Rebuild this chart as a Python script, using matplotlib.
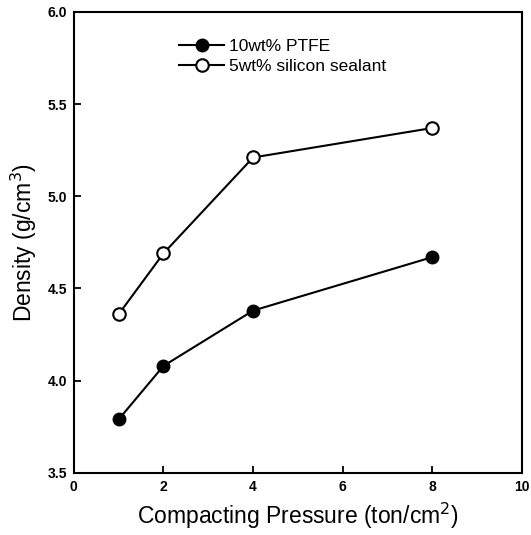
import matplotlib
matplotlib.use("Agg")
import matplotlib.pyplot as plt

pressure = [1, 2, 4, 8]
ptfe = [3.79, 4.08, 4.38, 4.67]
silicon = [4.36, 4.69, 5.21, 5.37]

x_ticks = [0, 2, 4, 6, 8, 10]
y_ticks = [3.5, 4.0, 4.5, 5.0, 5.5, 6.0]

plt.rcParams['font.family'] = ['Liberation Sans', 'DejaVu Sans']

fig = plt.figure(figsize=(5.31, 5.35), dpi=100)
ax = fig.add_axes([0.139, 0.116, 0.844, 0.862])

ax.plot(pressure, ptfe, '-o', color='black', lw=1.5, ms=9,
        mfc='black', mec='black', label='10wt% PTFE')
ax.plot(pressure, silicon, '-o', color='black', lw=1.5, ms=9,
        mfc='white', mec='black', mew=1.5, label='5wt% silicon sealant')

ax.set_xlim(0, 10)
ax.set_ylim(3.5, 6.0)
ax.set_xticks(x_ticks)
ax.set_yticks(y_ticks)
ax.set_xticklabels([str(t) for t in x_ticks], fontweight='bold', fontsize=10)
ax.set_yticklabels(['%.1f' % t for t in y_ticks], fontweight='bold', fontsize=10)
ax.tick_params(direction='in', length=5, width=1.3, top=False, right=False, pad=5)
for s in ax.spines.values():
    s.set_linewidth(1.5)

ax.set_xlabel('Compacting Pressure (ton/cm$^2$)', fontsize=16.5, labelpad=5)
ax.set_ylabel('Density (g/cm$^3$)', fontsize=16.5, labelpad=6)

ax.legend(loc='upper left', bbox_to_anchor=(0.2, 0.975), frameon=False,
          fontsize=12.5, handlelength=2.6, handletextpad=0.3, labelspacing=0.3)

fig.savefig('out.png', dpi=100)
